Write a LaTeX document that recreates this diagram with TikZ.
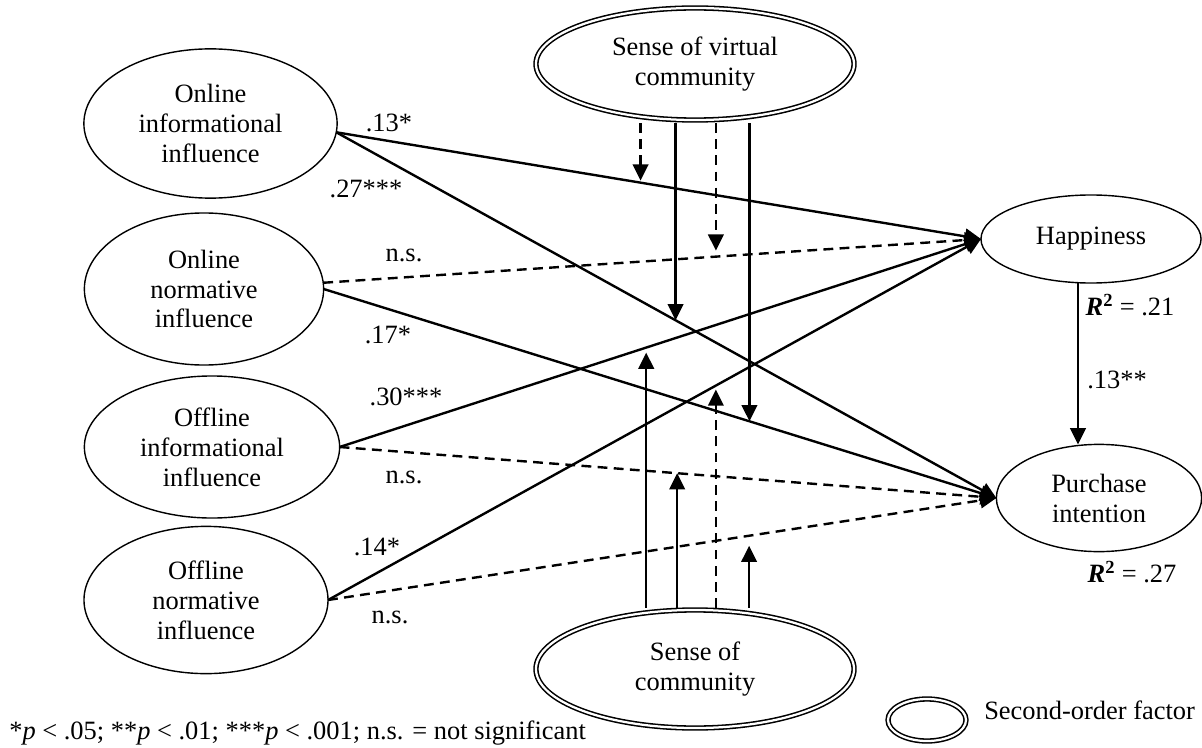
\documentclass[tikz,border=0pt]{standalone}
\usepackage{fontspec}
\setmainfont{Liberation Serif}
\usetikzlibrary{arrows.meta,positioning,shapes.geometric,calc}

\begin{document}
\begin{tikzpicture}[
        x=0.025cm, y=-0.025cm,
        font=\fontsize{18.8}{21.3}\selectfont,
        factor/.style={draw, ellipse, line width=1pt, align=center, inner sep=0pt, outer sep=0pt, minimum width=6.2cm, minimum height=3.7cm},
        second/.style={factor, double, double distance=1.6pt, line width=1.1pt, minimum width=7.95cm, minimum height=2.8cm},
        arrow/.style={-{Triangle[length=11.5pt,width=11pt]}, line width=1.7pt},
        dasharrow/.style={arrow, dash pattern=on 7pt off 4.5pt},
        coef/.style={inner sep=1pt}
    ]
    \useasboundingbox (0,0) rectangle (1202,748);

    % factors
    \node[factor, minimum width=6.33cm, minimum height=3.73cm] (oninfo) at (210.5,123.5) {Online\\informational\\influence};
    \node[factor, minimum width=5.98cm, minimum height=3.8cm] (onnorm) at (204,289) {Online\\normative\\influence};
    \node[factor, minimum width=6.38cm, minimum height=3.55cm] (offinfo) at (212,447) {Offline\\informational\\influence};
    \node[factor, minimum width=6.1cm, minimum height=3.68cm] (offnorm) at (206,600) {Offline\\normative\\influence};
    \node[factor, minimum width=5.5cm, minimum height=2.2cm] (happy) at (1091,239) {Happiness};
    \node[factor, minimum width=5.13cm, minimum height=2.68cm] (purchase) at (1099,498) {Purchase\\intention};
    \node[second] (svc) at (695,64) {Sense of virtual\\community};
    \node[second, minimum height=2.95cm] (soc) at (695,669) {Sense of\\community};

    % paths
    \draw[arrow] (oninfo.-4) -- (happy.west);
    \draw[arrow] (oninfo.-4) -- (purchase.west);
    \draw[dasharrow] (onnorm.3) -- (happy.west);
    \draw[arrow] (onnorm.east) -- (purchase.west);
    \draw[arrow] (offinfo.east) -- (happy.west);
    \draw[dasharrow] (offinfo.east) -- (purchase.west);
    \draw[arrow] (offnorm.east) -- (happy.west);
    \draw[dasharrow] (offnorm.east) -- (purchase.west);
    \draw[arrow] ([xshift=-0.325cm]happy.south) -- ([xshift=-0.325cm]happy.south |- purchase.north);

    % moderation
    \coordinate (m1) at ($(oninfo.-4)!0.472!(happy.west)$);
    \coordinate (m2) at ($(oninfo.-4)!0.514!(purchase.west)$);
    \coordinate (m3) at ($(onnorm.3)!0.597!(happy.west)$);
    \coordinate (m4) at ($(onnorm.east)!0.633!(purchase.west)$);
    \coordinate (m5) at ($(offinfo.east)!0.478!(happy.west)$);
    \coordinate (m6) at ($(offinfo.east)!0.514!(purchase.west)$);
    \coordinate (m7) at ($(offnorm.east)!0.594!(happy.west)$);
    \coordinate (m8) at ($(offnorm.east)!0.630!(purchase.west)$);
    \draw[dasharrow] ($(m1 |- svc.south)+(0,3)$) -- ($(m1)+(0,-2)$);
    \draw[arrow] ($(m2 |- svc.south)+(0,3)$) -- (m2);
    \draw[dasharrow] ($(m3 |- svc.south)+(0,3)$) -- ($(m3)+(0,-6)$);
    \draw[arrow] ($(m4 |- svc.south)+(0,3)$) -- (m4);
    \draw[arrow] ($(m5 |- soc.north)+(0,-2)$) -- ($(m5)+(0,5)$);
    \draw[arrow] ($(m6 |- soc.north)+(0,-2)$) -- (m6);
    \draw[dasharrow] ($(m7 |- soc.north)+(0,-2)$) -- ($(m7)+(0,4)$);
    \draw[arrow] ($(m8 |- soc.north)+(0,-2)$) -- ($(m8)+(0,10)$);

    % coefficients
    \node[coef] (c1) at (389,123) {.13*};
    \node[coef] (c2) at (366,189) {.27***};
    \node[coef] (c3) at (404,255) {n.s.};
    \node[coef] (c4) at (388,335) {.17*};
    \node[coef] (c5) at (406,397) {.30***};
    \node[coef] (c6) at (404,477) {n.s.};
    \node[coef] (c7) at (377,547) {.14*};
    \node[coef] (c8) at (390,617) {n.s.};
    \node[coef] (c9) at (1117,380) {.13**};
    \node[coef] (r1) at (1130,305) {\textbf{\textit{R}\textsuperscript{2}} = .21};
    \node[coef] (r2) at (1132,572) {\textbf{\textit{R}\textsuperscript{2}} = .27};

    % legend and note
    \node[second, minimum width=1.95cm, minimum height=1.05cm] (legend) at (927,720) {};
    \node[anchor=west, inner sep=0pt] (legtext) at (984,710) {Second-order factor};
    \node[anchor=west, inner sep=0pt] (note) at (9,733) {*\textit{p} < .05; **\textit{p} < .01; ***\textit{p} < .001; n.s. = not significant};
\end{tikzpicture}
\end{document}
